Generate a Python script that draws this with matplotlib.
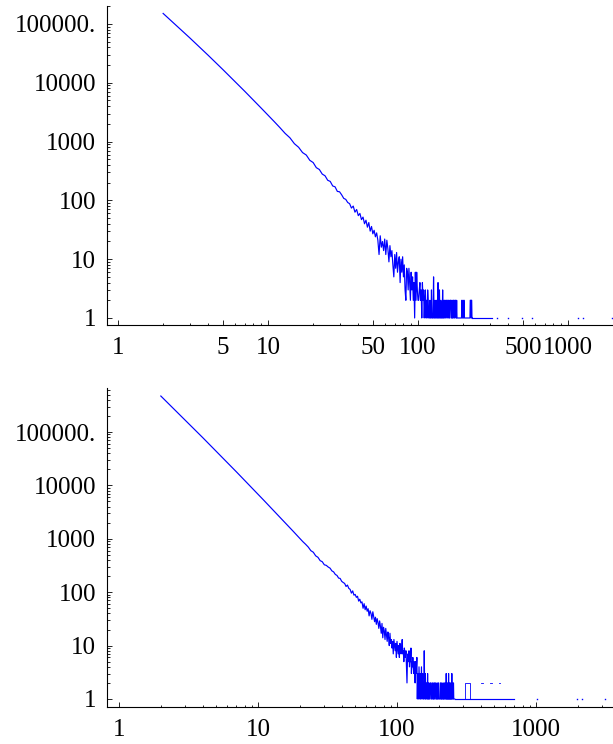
import numpy as np
import matplotlib
matplotlib.use("Agg")
from matplotlib import pyplot as plt
from matplotlib.ticker import FixedLocator, FixedFormatter, NullFormatter

plt.rc('font', family='serif', serif=['Liberation Serif'], size=18)
plt.rc('axes', linewidth=0.8)

# counts per size, first entry is size 2 (0 = empty, not drawn)
top_counts = [
    151000, 58500, 29200, 16800, 10600, 7160, 5070, 3720, 2820,
    2190, 1730, 1380, 1160, 920, 800, 650, 590, 480, 440,
    360, 335, 280, 262, 220, 210, 176, 170, 142, 140,
    124, 108, 104, 92, 88, 74, 80, 63, 70, 55,
    60, 47, 52, 40, 46, 35, 42, 30, 36, 27,
    31, 24, 28, 21, 12, 25, 16, 20, 14, 22,
    12, 21, 15, 9, 17, 11, 14, 8, 5, 12,
    7, 13, 6, 9, 11, 4, 10, 6, 11, 5,
    8, 3, 2, 7, 6, 3, 7, 4, 2, 6,
    3, 5, 2, 4, 1, 6, 2, 6, 3, 2,
    2, 3, 4, 2, 3, 1, 4, 2, 3, 1,
    2, 3, 1, 2, 1, 3, 2, 1, 1, 2,
    1, 1, 3, 1, 1, 1, 5, 1, 1, 2,
    1, 1, 2, 1, 1, 4, 1, 1, 3, 1,
    1, 2, 1, 1, 1, 3, 1, 1, 2, 1,
    2, 2, 1, 1, 2, 2, 2, 1, 1, 2,
    2, 1, 1, 2, 2, 2, 1, 1, 2, 1,
    1, 2, 2, 1, 1, 2, 2, 2, 1, 1,
    2, 1, 1, 1, 1, 1, 1, 1, 1, 1,
    1, 1, 1, 1, 1, 2, 2, 1, 1, 1,
    1, 2, 2, 1, 1, 1, 1, 1, 1, 1,
    1, 1, 1, 1, 1, 1, 1, 1, 1, 1,
    1, 1, 2, 2, 2, 1, 2, 2, 1, 1,
]
top_run_x = [230, 312]          # continuous run at count 1
top_two_runs = []
top_two_dashes = []
top_dots_x = [336, 398, 493, 575, 1166, 1260, 1964]

bottom_counts = [
    472000, 166000, 78700, 43700, 27000, 17900, 12500, 9100, 6840,
    5280, 4160, 3340, 2730, 2250, 1890, 1600, 1365, 1170, 1016,
    887, 790, 700, 600, 560, 480, 450, 390, 372, 326,
    318, 296, 282, 251, 240, 215, 206, 184, 181, 160,
    152, 146, 128, 136, 118, 113, 96, 106, 88, 91,
    80, 84, 68, 74, 63, 66, 50, 61, 47, 55,
    44, 49, 36, 45, 40, 31, 43, 35, 28, 34,
    25, 32, 27, 21, 29, 23, 17, 26, 14, 22,
    19, 13, 21, 16, 12, 18, 14, 10, 17, 11,
    13, 9, 12, 7, 13, 10, 8, 11, 6, 12,
    9, 7, 10, 6, 11, 8, 7, 9, 13, 7,
    8, 5, 9, 7, 6, 8, 4, 2, 6, 7,
    5, 8, 4, 6, 5, 9, 3, 5, 4, 6,
    4, 3, 5, 4, 2, 5, 3, 4, 6, 1,
    3, 2, 1, 4, 2, 1, 3, 1, 2, 4,
    1, 2, 3, 1, 2, 1, 8, 2, 1, 3,
    1, 1, 2, 2, 1, 3, 1, 1, 2, 1,
    1, 1, 2, 2, 2, 1, 1, 1, 2, 2,
    1, 1, 1, 2, 1, 1, 2, 2, 2, 1,
    1, 1, 1, 2, 1, 1, 1, 2, 2, 1,
    1, 1, 1, 1, 2, 2, 1, 1, 1, 2,
    1, 1, 1, 1, 2, 1, 1, 1, 1, 2,
    2, 1, 1, 1, 1, 3, 1, 1, 1, 1,
    2, 1, 1, 1, 3, 1, 1, 2, 1, 1,
    1, 1, 2, 1, 1, 1, 1, 3, 1, 1,
    1, 1, 1, 2, 2, 1, 1, 1, 1, 1,
]
bottom_run_x = [260, 690]
bottom_two_runs = [(310, 335)]
bottom_two_dashes = [(405, 418), (470, 482), (540, 552)]
bottom_dots_x = [1016, 1970, 2130, 3130]

y_ticks = [1, 10, 100, 1000, 10000, 100000]
y_labels = ['1', '10', '100', '1000', '10000', '100000.']
top_xticks = [1, 5, 10, 50, 100, 500, 1000]
bottom_xticks = [1, 10, 100, 1000]

blue = (0, 0, 1)


def minor_list(majors, top):
    out = []
    for d in [1, 10, 100, 1000, 10000, 100000]:
        for s in range(2, 10):
            v = s * d
            if v not in majors and v < top:
                out.append(v)
    return out


def draw(ax, counts, run_x, dots_x, xlim, ylim, xticks, two_runs, dashes):
    x = np.arange(2, 2 + len(counts))
    y = np.array(counts, dtype=float)
    y[y == 0] = np.nan
    ax.plot(x, y, color=blue, lw=0.85)
    ax.plot(run_x, [1, 1], color=blue, lw=0.85)
    for a, b in two_runs:
        ax.plot([a, a, b, b], [1, 2, 2, 1], color=blue, lw=0.6)
    for a, b in dashes:
        ax.plot([a, b], [2, 2], color=blue, lw=0.6)
    ax.plot(dots_x, np.ones(len(dots_x)), ls='none', marker='s', ms=1.0,
            color=blue, mew=0)
    ax.set_xscale('log')
    ax.set_yscale('log')
    ax.set_xlim(xlim)
    ax.set_ylim(ylim)
    for s in ['top', 'right']:
        ax.spines[s].set_visible(False)
    ax.xaxis.set_major_locator(FixedLocator(xticks))
    ax.xaxis.set_major_formatter(FixedFormatter([str(t) for t in xticks]))
    ax.xaxis.set_minor_locator(FixedLocator(minor_list(xticks, xlim[1])))
    ax.xaxis.set_minor_formatter(NullFormatter())
    ax.yaxis.set_major_locator(FixedLocator(y_ticks))
    ax.yaxis.set_major_formatter(FixedFormatter(y_labels))
    ax.yaxis.set_minor_locator(FixedLocator(minor_list(y_ticks, ylim[1])))
    ax.yaxis.set_minor_formatter(NullFormatter())
    ax.tick_params(which='both', direction='in', width=0.6)
    ax.tick_params(which='major', length=3.5)
    ax.tick_params(which='minor', length=1.8)
    ax.tick_params(axis='x', which='major', pad=9)
    ax.tick_params(axis='y', which='major', pad=8)


fig = plt.figure(figsize=(6.13, 7.44), dpi=100)

ax1 = fig.add_axes([107 / 613, 1 - 325 / 744, 506 / 613, 319 / 744])
draw(ax1, top_counts, top_run_x, top_dots_x, (0.845, 1995), (0.76, 2.02e5),
     top_xticks, top_two_runs, top_two_dashes)

ax2 = fig.add_axes([107 / 613, 1 - 707 / 744, 506 / 613, 319 / 744])
draw(ax2, bottom_counts, bottom_run_x, bottom_dots_x, (0.82, 3580),
     (0.708, 6.67e5), bottom_xticks, bottom_two_runs, bottom_two_dashes)

fig.savefig('out.png', dpi=100)
